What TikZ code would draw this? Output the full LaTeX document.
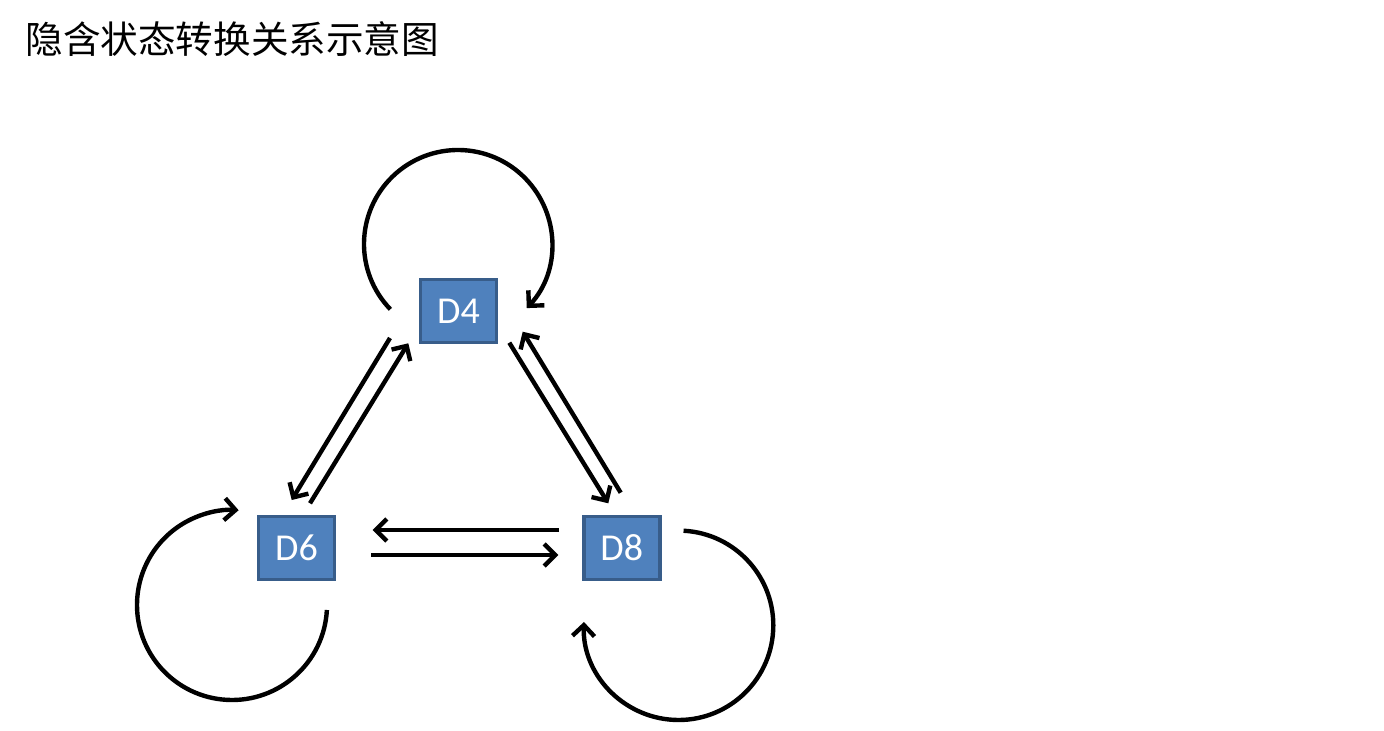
\documentclass[tikz,border=0pt]{standalone}
\usepackage{fontspec}
\setmainfont{Carlito}
\newfontfamily\cjk{Noto Sans CJK SC}
\usetikzlibrary{arrows.meta}
\definecolor{boxfill}{HTML}{4F81BD}
\definecolor{boxline}{HTML}{385D8A}
\tikzset{
  statebox/.style={draw=boxline, fill=boxfill, line width=1.8pt, minimum width=38pt, minimum height=31.5pt, inner sep=0pt, text=white, font=\fontsize{19}{19}\selectfont},
  arr/.style={line width=2.2pt, -{Straight Barb[length=5.5pt,width=11pt]}},
}
\begin{document}
\begin{tikzpicture}[x=0.5pt,y=-0.5pt]
\useasboundingbox (0,0) rectangle (1384,731);
\node[anchor=west, inner sep=0pt, font=\cjk\fontsize{18.8}{18.8}\selectfont] (title) at (25,39) {隐含状态转换关系示意图};
\node[statebox] (D4) at (458.5,311) {D4};
\node[statebox] (D6) at (296.5,548) {D6};
\node[statebox] (D8) at (621.7,548) {D8};
% straight arrows
\draw[arr] ([shift={(-68.5,27)}]D4.center) -- ([shift={(-4.8,-48)}]D6.center);
\draw[arr] ([shift={(13.5,-44.7)}]D6.center) -- ([shift={(-50.2,32.3)}]D4.center);
\draw[arr] ([shift={(50.8,31.7)}]D4.center) -- ([shift={(-13.4,-44.7)}]D8.center);
\draw[arr] ([shift={(-1,-55.3)}]D8.center) -- ([shift={(64.2,20.7)}]D4.center);
\draw[arr] ([shift={(-62.7,-18)}]D8.center) -- ([shift={(76.2,-18)}]D6.center);
\draw[arr] ([shift={(74.5,7)}]D6.center) -- ([shift={(-63.4,7)}]D8.center);
% self loops
\coordinate (L4) at ([shift={(-0.5,-67)}]D4.center);
\draw[arr] ([shift={(136:94)}]L4) arc[start angle=136, end angle=403, radius=94];
\coordinate (L6) at ([shift={(-64.5,57)}]D6.center);
\draw[arr] ([shift={(3:95)}]L6) arc[start angle=3, end angle=274, radius=95];
\coordinate (L8) at ([shift={(56.9,77.3)}]D8.center);
\draw[arr] ([shift={(-87:94.7)}]L8) arc[start angle=-87, end angle=182, radius=94.7];
\end{tikzpicture}
\end{document}
